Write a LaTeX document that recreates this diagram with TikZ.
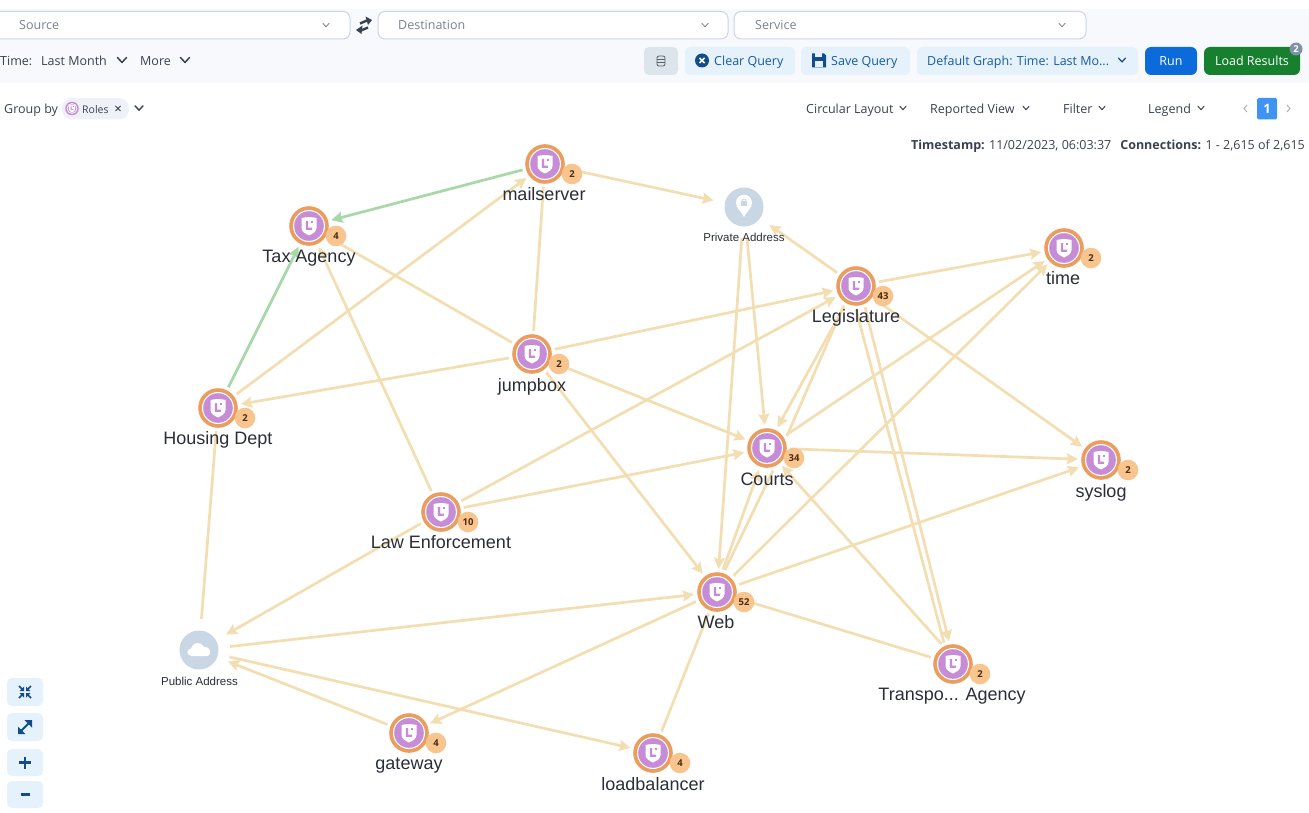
\documentclass[tikz,border=0pt]{standalone}
\usepackage{fontspec}
\setmainfont{Open Sans}
\newfontfamily\graphfont{Liberation Sans}
\usetikzlibrary{arrows.meta,shapes.geometric,calc}
\definecolor{edgecol}{HTML}{F3DEB2}
\definecolor{greencol}{HTML}{A8D8A8}
\definecolor{ringcol}{HTML}{EB9D5E}
\definecolor{purplecol}{HTML}{C68CD6}
\definecolor{badgecol}{HTML}{F8C58F}
\definecolor{badgetxt}{HTML}{4A2C10}
\definecolor{labeltxt}{HTML}{2A2E38}
\definecolor{addrcol}{HTML}{C9D6E3}
\definecolor{barcol}{HTML}{F7F9FD}
\definecolor{boxline}{HTML}{CBD5E8}
\definecolor{graytxt}{HTML}{7A828E}
\definecolor{uitxt}{HTML}{3A4150}
\definecolor{btnlight}{HTML}{E5F2FB}
\definecolor{btntxt}{HTML}{175A9E}
\definecolor{btndark}{HTML}{104C8E}
\definecolor{dbbtn}{HTML}{DCE4EC}
\definecolor{runcol}{HTML}{0B6BDB}
\definecolor{loadcol}{HTML}{16802F}
\definecolor{chipcol}{HTML}{EEF2F8}
\definecolor{pagecol}{HTML}{3F93F3}
\definecolor{lbadge}{HTML}{8090A6}
\newcommand\fsz[1]{\fontsize{#1}{#1}\selectfont}
\tikzset{
  x=1pt,y=-1pt,
  anchorpt/.style={circle,inner sep=0pt,minimum size=46pt},
  addrpt/.style={circle,inner sep=0pt,minimum size=62pt},
  link/.style={draw=edgecol,line width=2.7pt},
  arr/.style={link,-{Stealth[length=11pt,width=11pt,inset=1.5pt]}},
  glink/.style={arr,draw=greencol},
  graphlabel/.style={font=\graphfont\fsz{18},text=labeltxt,inner sep=0pt,text height=15pt,text depth=4pt},
  addrlabel/.style={font=\graphfont\fsz{11.5},text=labeltxt,inner sep=0pt,text height=10.5pt,text depth=2.5pt},
  badgetext/.style={font=\fsz{9.5}\bfseries,text=badgetxt,inner sep=0pt},
  uibase/.style={font=\fsz{12.5},inner sep=0pt,text height=12pt,text depth=2.5pt},
  ui/.style={uibase,text=uitxt,anchor=west},
  uigray/.style={uibase,text=graytxt,anchor=west},
  btnt/.style={uibase,text=btntxt,anchor=west},
  btnw/.style={uibase,text=white},
  selbox/.style={draw=boxline,line width=1pt,fill=white,rounded corners=7pt},
  btn/.style={fill=btnlight,rounded corners=5pt},
  chevr/.style={line width=#1,line cap=round,line join=round},
  pics/shield/.style={code={
    \fill[white] (-7.5,-8) .. controls (-3,-9.2) and (3,-9.2) .. (7.5,-8) -- (7.5,2)
       .. controls (7.5,6) and (3,8) .. (0,9.5) .. controls (-3,8) and (-7.5,6) .. (-7.5,2) -- cycle;
    \fill[purplecol] (-3.2,-5) -- (-0.8,-5) -- (-0.8,1.6) -- (3.2,1.6) -- (3.2,3.8) -- (-3.2,3.8) -- cycle;
    \fill[purplecol] (1.6,-5) rectangle (4,-2.6);
  }},
}
\newcommand\chev[5]{\draw[#5,chevr=#4] (#1-#3,#2-#3*0.55) -- (#1,#2+#3*0.55) -- (#1+#3,#2-#3*0.55);}
\newcommand\placept[3]{\node[anchorpt] (#1) at (#2,#3) {};}
\newcommand\rolevis[5]{%
  \fill[ringcol] (#1) circle (19.8);
  \fill[white] (#1) circle (16);
  \fill[purplecol] (#1) circle (14.8);
  \pic at (#1) {shield};
  \fill[badgecol] ($(#1)+(27,10)$) circle (10.3);
  \node[badgetext] (#1-badge) at ($(#1)+(27,10)$) {#2};
  \node[graphlabel] (#1-label) at (#3,#4) {#5};
}
\begin{document}
\begin{tikzpicture}
\useasboundingbox (0,0) rectangle (1309,813);
\fill[white] (0,0) rectangle (1309,813);
\fill[barcol] (0,9) rectangle (1309,83);
% anchors
\placept{mail}{545}{164}
\placept{tax}{309}{226}
\placept{leg}{856}{286}
\placept{time}{1064}{248}
\placept{jump}{532}{354}
\placept{housing}{218}{408}
\placept{courts}{767}{448}
\placept{syslog}{1101}{460}
\placept{law}{441}{512}
\placept{web}{717}{592}
\placept{trans}{953}{664}
\placept{gate}{409}{733}
\placept{load}{653}{753}
\node[addrpt] (priv) at (744,207) {};
\node[addrpt] (pub) at (199,650) {};
% connectors
\draw[glink] (mail) -- (tax);
\draw[glink] (housing) -- (tax);
\draw[arr] (mail) -- (priv);
\draw[arr] (housing) -- (mail);
\draw[link] (jump) -- (mail);
\draw[link] (tax) -- (jump);
\draw[arr] (law) -- (tax);
\draw[arr] (jump) -- (leg);
\draw[arr] (jump) -- (housing);
\draw[arr] (jump) -- (courts);
\draw[arr] (jump) -- (web);
\draw[link] (housing) -- (pub);
\draw[arr] (law) -- (leg);
\draw[arr] (law) -- (courts);
\draw[arr] (law) -- (pub);
\draw[arr] (pub) -- (web);
\draw[arr] (web) -- (gate);
\draw[arr] (gate) -- (pub);
\draw[arr] (pub) -- (load);
\draw[link] (load) -- (web);
\draw[link] (web) -- (trans);
\draw[arr] (web) -- (syslog);
\draw[arr] (web) -- (time);
\draw[arr] (web.75) -- (courts.250);
\draw[link] (web.70) -- (courts.285);
\draw[arr] (courts) -- (time);
\draw[arr] (leg.240) -- (courts.63);
\draw[link] (courts.31) -- (leg.238);
\draw[arr] (courts) -- (syslog);
\draw[arr] (trans.120) -- (courts.310);
\draw[arr] (leg) -- (time);
\draw[arr] (leg) -- (syslog);
\draw[link] (leg.270) -- (trans.113);
\draw[arr] (leg.293) -- (trans.100);
\draw[arr] (leg) -- (priv);
\draw[arr] (priv) -- (courts);
\draw[arr] (priv) -- (web);
% node visuals
\rolevis{mail}{2}{544}{195}{mailserver}
\rolevis{tax}{4}{309}{257}{Tax Agency}
\rolevis{leg}{43}{856}{317}{Legislature}
\rolevis{time}{2}{1063}{279}{time}
\rolevis{jump}{2}{532}{386}{jumpbox}
\rolevis{housing}{2}{218}{439}{Housing Dept}
\rolevis{courts}{34}{767}{480}{Courts}
\rolevis{syslog}{2}{1101}{492}{syslog}
\rolevis{law}{10}{441}{543}{Law Enforcement}
\rolevis{web}{52}{716}{623}{Web}
\rolevis{trans}{2}{952}{695}{Transpo... Agency}
\rolevis{gate}{4}{409}{764}{gateway}
\rolevis{load}{4}{653}{785}{loadbalancer}
% private address
\fill[addrcol] (priv) circle (19.5);
\fill[white] (744,217) .. controls (741,211) and (736,208) .. (736,203) .. controls (736,192) and (752,192) .. (752,203) .. controls (752,208) and (747,211) .. (744,217) -- cycle;
\fill[addrcol] (741,201.5) rectangle (747,206.5);
\draw[addrcol,line width=0.9pt] (742,201.5) .. controls (742,198) and (746,198) .. (746,201.5);
\node[addrlabel] (priv-label) at (744,237.5) {Private Address};
% public address
\fill[addrcol] (pub) circle (19.5);
\fill[white] (192,656) .. controls (186,656) and (186,649) .. (191,648.5) .. controls (192,642) and (202,641) .. (204,647) .. controls (211,646) and (213,656) .. (206,656) -- cycle;
\node[addrlabel] (pub-label) at (199.5,681) {Public Address};
% top selects
\draw[selbox] (-8,11.5) rectangle (350,39);
\node[uigray] (srctxt) at (19,24.5) {Source};
\chev{326}{25}{3.2}{0.8pt}{graytxt}
\draw[selbox] (378,11.5) rectangle (728,39);
\node[uigray] (dsttxt) at (398,24.5) {Destination};
\chev{705}{25}{3.2}{0.8pt}{graytxt}
\draw[selbox] (734,11.5) rectangle (1086,39);
\node[uigray] (svctxt) at (755,24.5) {Service};
\chev{1062}{25}{3.2}{0.8pt}{graytxt}
% swap icon
\draw[uitxt,line width=2.4pt] (360,23.5) -- (367,20.5);
\fill[uitxt] (365.5,16.5) -- (372,20) -- (368,25) -- cycle;
\draw[uitxt,line width=2.4pt] (368,27.5) -- (361,30.5);
\fill[uitxt] (362.5,25.5) -- (356,30) -- (361.5,34) -- cycle;
% second row
\node[ui] (timetxt) at (0,60.5) {Time:};
\node[ui] (lasttxt) at (41,60.5) {Last Month};
\chev{122}{60}{4.5}{1.5pt}{uitxt}
\node[ui] (moretxt) at (140,60.5) {More};
\chev{185}{60}{4.5}{1.5pt}{uitxt}
\fill[dbbtn,rounded corners=5pt] (644,47) rectangle (678,75);
\draw[uitxt!85,line width=0.8pt,rounded corners=2pt] (657,56) rectangle (665,66);
\draw[uitxt!85,line width=0.8pt] (657,59.5) -- (665,59.5) (657,62.8) -- (665,62.8);
\fill[btn] (685,47) rectangle (795,75);
\fill[btndark] (702,60.5) circle (7);
\draw[white,line width=1.5pt] (699.5,58) -- (704.5,63) (704.5,58) -- (699.5,63);
\node[btnt] (cleartxt) at (714,60.5) {Clear Query};
\fill[btn] (801,47) rectangle (910,75);
\fill[btndark] (812,53.5) -- (824,53.5) -- (826,55.5) -- (826,67.5) -- (812,67.5) -- cycle;
\fill[btnlight] (815,53.5) rectangle (822,57.5);
\fill[btnlight] (815,61) rectangle (823,67.5);
\node[btnt] (savetxt) at (831,60.5) {Save Query};
\fill[btn] (917,47) rectangle (1138,75);
\node[btnt] (deftxt) at (927,60.5) {Default Graph: Time: Last Mo...};
\chev{1122}{60}{3.5}{1.2pt}{btndark}
\fill[runcol,rounded corners=6pt] (1145,47) rectangle (1197,75);
\node[btnw] (runtxt) at (1171,60.5) {Run};
\fill[loadcol,rounded corners=6pt] (1204,47) rectangle (1300,75);
\node[btnw] (loadtxt) at (1252,60.5) {Load Results};
\fill[lbadge] (1296,49) circle (6.5);
\node[font=\fsz{9.5}\bfseries,text=white,inner sep=0pt] (loadbadge) at (1296,49) {2};
% third row
\node[ui] (grouptxt) at (4,108.5) {Group by};
\fill[chipcol,rounded corners=10pt] (62,98) rectangle (129,119.5);
\fill[purplecol] (72,108.5) circle (6.8);
\fill[chipcol] (72,108.5) circle (5.4);
\fill[purplecol] (72,108.5) circle (4.3);
\pic[scale=0.42] at (72,108.5) {shield};
\node[ui,font=\fsz{10.5}] (rolestxt) at (82,108.5) {Roles};
\draw[uitxt,line width=1pt] (115.5,106) -- (120.5,111) (120.5,106) -- (115.5,111);
\chev{139}{108}{4}{1.4pt}{uitxt}
\node[ui] (circtxt) at (806,108.5) {Circular Layout};
\chev{903}{108}{3}{1pt}{uitxt}
\node[ui] (reptxt) at (930,108.5) {Reported View};
\chev{1026}{108}{3}{1pt}{uitxt}
\node[ui] (filtxt) at (1063,108.5) {Filter};
\chev{1102}{108}{3}{1pt}{uitxt}
\node[ui] (legtxt) at (1148,108.5) {Legend};
\chev{1201}{108}{3}{1pt}{uitxt}
\draw[gray!60,line width=1pt] (1247,105) -- (1244,108.5) -- (1247,112);
\fill[pagecol,rounded corners=1.5pt] (1257,98) rectangle (1277,119.5);
\node[font=\fsz{13}\bfseries,text=white,inner sep=0pt] (pagetxt) at (1267,108.5) {1};
\draw[gray!60,line width=1pt] (1287,105) -- (1290,108.5) -- (1287,112);
\node[ui,anchor=east] (stamptxt) at (1305,145) {\textbf{Timestamp:} 11/02/2023, 06:03:37\hspace{9pt}\textbf{Connections:} 1 - 2,615 of 2,615};
% left zoom buttons
\foreach \ya/\yb in {678/706,713/741,749/776,781/808}{
  \fill[btn] (7,\ya) rectangle (43,\yb);
}
\draw[btndark,line width=1.6pt] (19,686) -- (23,690) (31,686) -- (27,690) (19,698) -- (23,694) (31,698) -- (27,694);
\fill[btndark] (24,691) -- (19.5,691) -- (24,686.5) -- cycle;
\fill[btndark] (26,691) -- (30.5,691) -- (26,686.5) -- cycle;
\fill[btndark] (24,693) -- (19.5,693) -- (24,697.5) -- cycle;
\fill[btndark] (26,693) -- (30.5,693) -- (26,697.5) -- cycle;
\draw[btndark,line width=2pt] (20,732) -- (30,722);
\fill[btndark] (18,726.5) -- (18,734) -- (25.5,734) -- cycle;
\fill[btndark] (32,720) -- (24.5,720) -- (32,727.5) -- cycle;
\draw[btndark,line width=2.2pt] (19,762.5) -- (31,762.5) (25,756.5) -- (25,768.5);
\draw[btndark,line width=2.2pt] (20.5,794.5) -- (29.5,794.5);
\end{tikzpicture}
\end{document}
